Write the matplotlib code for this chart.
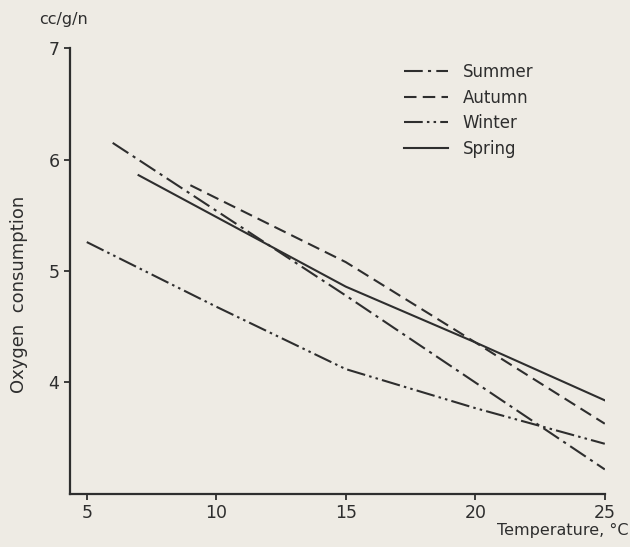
import matplotlib
matplotlib.use("Agg")
import matplotlib.pyplot as plt

plt.rcParams['font.family'] = ['DejaVu Sans']

summer_x = [6, 15, 20, 25]
summer_y = [6.15, 4.78, 4.00, 3.22]
autumn_x = [9, 15, 20, 25]
autumn_y = [5.77, 5.08, 4.36, 3.63]
winter_x = [5, 10, 15, 20, 25]
winter_y = [5.26, 4.68, 4.12, 3.77, 3.45]
spring_x = [7, 15, 20, 25]
spring_y = [5.86, 4.86, 4.36, 3.84]

x_ticks = [5, 10, 15, 20, 25]
y_ticks = [4, 5, 6, 7]

bg = '#eeebe4'
ink = '#2e2e2e'

fig = plt.figure(figsize=(6.3, 5.47), dpi=100, facecolor=bg)
ax = fig.add_axes([0.111, 0.097, 0.849, 0.815], facecolor=bg)

lw = 1.5
ax.plot(summer_x, summer_y, color=ink, lw=lw, linestyle=(0, (9, 2.5, 1.5, 2.5)), label='Summer')
ax.plot(autumn_x, autumn_y, color=ink, lw=lw, linestyle=(0, (6, 3)), label='Autumn')
ax.plot(winter_x, winter_y, color=ink, lw=lw, linestyle=(0, (9, 2, 1.2, 2, 1.2, 2)), label='Winter')
ax.plot(spring_x, spring_y, color=ink, lw=lw, linestyle='-', label='Spring')

ax.set_xlim(4.35, 25)
ax.set_ylim(3.0, 7.0)
ax.set_xticks(x_ticks)
ax.set_yticks(y_ticks)
ax.spines['top'].set_visible(False)
ax.spines['right'].set_visible(False)
for s in ('left', 'bottom'):
    ax.spines[s].set_color(ink)
    ax.spines[s].set_linewidth(1.6)
ax.tick_params(direction='out', length=4, width=1.3, colors=ink, labelsize=12.5)

fig.text(0.03, 0.461, 'Oxygen  consumption', rotation=90, ha='center', va='center',
         fontsize=13, color=ink)
fig.text(0.997, 0.03, 'Temperature, °C', ha='right', va='center', fontsize=11.5, color=ink)
fig.text(0.062, 0.965, 'cc/g/n', ha='left', va='center', fontsize=11.5, color=ink)

leg = ax.legend(loc='upper left', bbox_to_anchor=(0.597, 1.0), frameon=False,
                fontsize=12, handlelength=2.6, handletextpad=0.9, labelspacing=0.45)
for t in leg.get_texts():
    t.set_color(ink)

fig.savefig('out.png', dpi=100, facecolor=bg)
